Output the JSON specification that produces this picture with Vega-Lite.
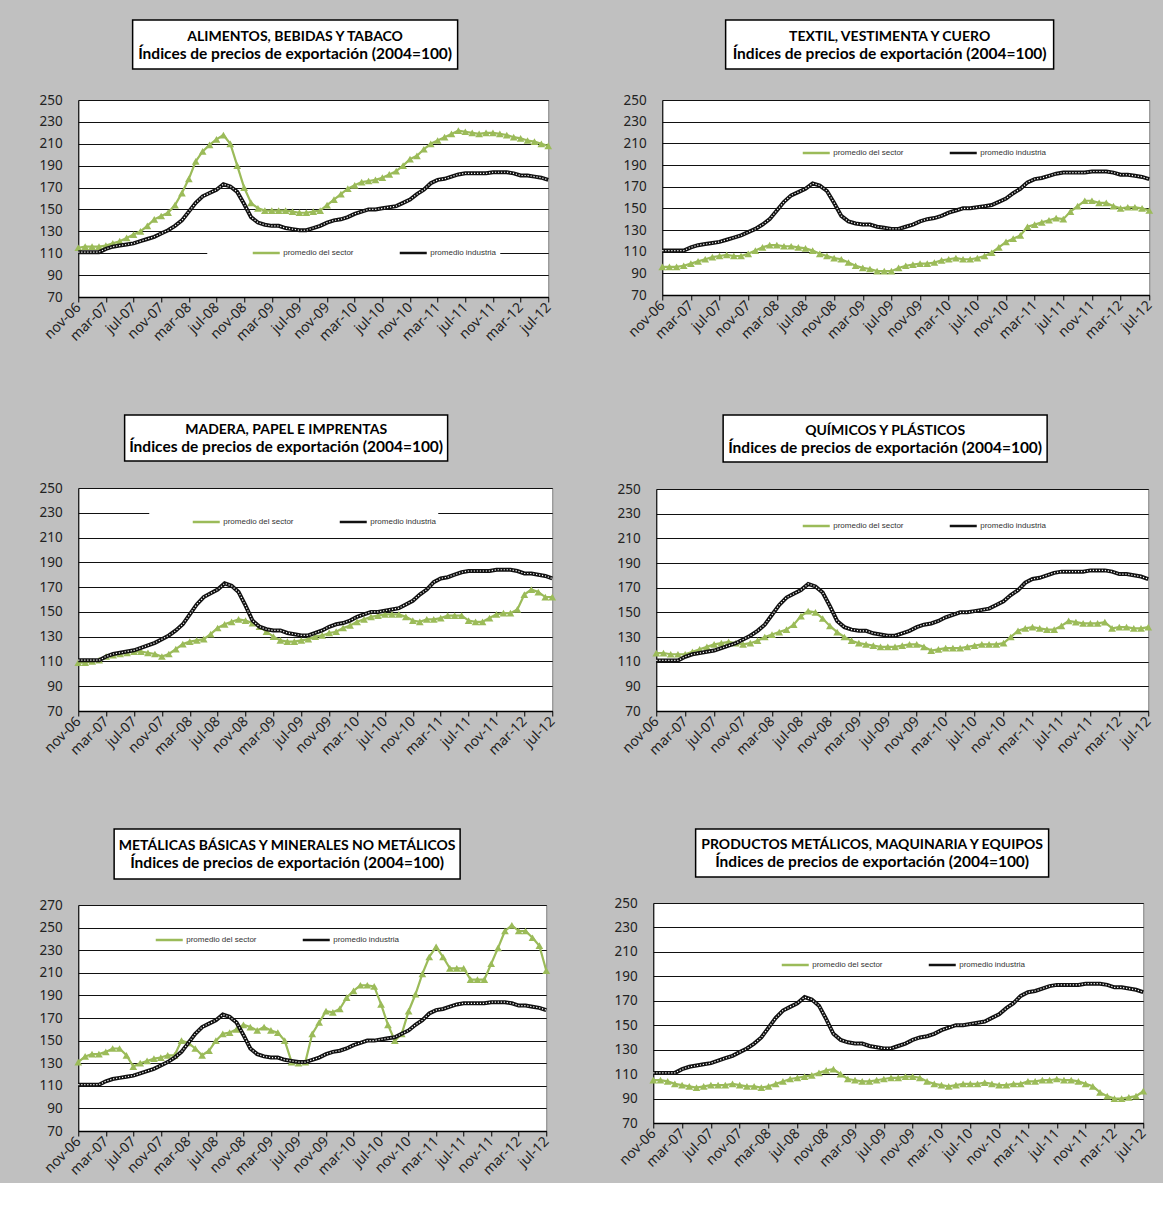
{
"$schema": "https://vega.github.io/schema/vega-lite/v6.json",
"padding": {"left": 38, "top": 19, "right": 5, "bottom": 5},
"datasets": {
"m": [
{"mes":"nov-06","ind":111,"ali":115,"tex":96,"mad":109,"qui":117,"met":131,"pro":105},
{"mes":"dic-06","ind":111,"ali":116,"tex":96,"mad":109,"qui":117,"met":136,"pro":105},
{"mes":"ene-07","ind":111,"ali":116,"tex":96,"mad":110,"qui":116,"met":138,"pro":104},
{"mes":"feb-07","ind":111,"ali":116,"tex":97,"mad":111,"qui":116,"met":138,"pro":102},
{"mes":"mar-07","ind":114,"ali":117,"tex":99,"mad":114,"qui":116,"met":140,"pro":101},
{"mes":"abr-07","ind":116,"ali":119,"tex":101,"mad":115,"qui":118,"met":143,"pro":100},
{"mes":"may-07","ind":117,"ali":121,"tex":103,"mad":116,"qui":120,"met":143,"pro":99},
{"mes":"jun-07","ind":118,"ali":124,"tex":105,"mad":117,"qui":122,"met":137,"pro":100},
{"mes":"jul-07","ind":119,"ali":127,"tex":106,"mad":118,"qui":124,"met":127,"pro":101},
{"mes":"ago-07","ind":121,"ali":130,"tex":107,"mad":118,"qui":125,"met":130,"pro":101},
{"mes":"sep-07","ind":123,"ali":135,"tex":106,"mad":117,"qui":126,"met":132,"pro":101},
{"mes":"oct-07","ind":125,"ali":141,"tex":106,"mad":116,"qui":125,"met":134,"pro":102},
{"mes":"nov-07","ind":128,"ali":144,"tex":108,"mad":114,"qui":124,"met":135,"pro":101},
{"mes":"dic-07","ind":131,"ali":147,"tex":111,"mad":116,"qui":125,"met":137,"pro":100},
{"mes":"ene-08","ind":135,"ali":154,"tex":114,"mad":120,"qui":127,"met":137,"pro":100},
{"mes":"feb-08","ind":140,"ali":165,"tex":116,"mad":124,"qui":130,"met":150,"pro":99},
{"mes":"mar-08","ind":148,"ali":178,"tex":116,"mad":126,"qui":132,"met":148,"pro":100},
{"mes":"abr-08","ind":156,"ali":194,"tex":115,"mad":127,"qui":134,"met":143,"pro":102},
{"mes":"may-08","ind":162,"ali":203,"tex":115,"mad":128,"qui":136,"met":137,"pro":104},
{"mes":"jun-08","ind":165,"ali":209,"tex":114,"mad":132,"qui":140,"met":141,"pro":106},
{"mes":"jul-08","ind":168,"ali":214,"tex":113,"mad":137,"qui":147,"met":150,"pro":107},
{"mes":"ago-08","ind":173,"ali":218,"tex":111,"mad":140,"qui":151,"met":156,"pro":108},
{"mes":"sep-08","ind":171,"ali":210,"tex":108,"mad":142,"qui":150,"met":157,"pro":109},
{"mes":"oct-08","ind":166,"ali":190,"tex":106,"mad":144,"qui":145,"met":160,"pro":111},
{"mes":"nov-08","ind":155,"ali":170,"tex":104,"mad":143,"qui":139,"met":164,"pro":113},
{"mes":"dic-08","ind":143,"ali":156,"tex":103,"mad":141,"qui":134,"met":162,"pro":114},
{"mes":"ene-09","ind":138,"ali":151,"tex":100,"mad":138,"qui":130,"met":159,"pro":110},
{"mes":"feb-09","ind":136,"ali":149,"tex":97,"mad":134,"qui":127,"met":162,"pro":106},
{"mes":"mar-09","ind":135,"ali":149,"tex":95,"mad":130,"qui":125,"met":159,"pro":105},
{"mes":"abr-09","ind":135,"ali":149,"tex":94,"mad":127,"qui":124,"met":157,"pro":104},
{"mes":"may-09","ind":133,"ali":149,"tex":92,"mad":126,"qui":123,"met":150,"pro":104},
{"mes":"jun-09","ind":132,"ali":148,"tex":92,"mad":126,"qui":122,"met":131,"pro":105},
{"mes":"jul-09","ind":131,"ali":147,"tex":92,"mad":127,"qui":122,"met":130,"pro":106},
{"mes":"ago-09","ind":131,"ali":147,"tex":95,"mad":128,"qui":122,"met":131,"pro":107},
{"mes":"sep-09","ind":133,"ali":148,"tex":97,"mad":130,"qui":123,"met":156,"pro":107},
{"mes":"oct-09","ind":135,"ali":149,"tex":98,"mad":131,"qui":124,"met":166,"pro":108},
{"mes":"nov-09","ind":138,"ali":154,"tex":99,"mad":133,"qui":124,"met":176,"pro":108},
{"mes":"dic-09","ind":140,"ali":159,"tex":99,"mad":134,"qui":122,"met":175,"pro":107},
{"mes":"ene-10","ind":141,"ali":164,"tex":100,"mad":137,"qui":119,"met":178,"pro":104},
{"mes":"feb-10","ind":143,"ali":169,"tex":102,"mad":139,"qui":120,"met":188,"pro":102},
{"mes":"mar-10","ind":146,"ali":172,"tex":103,"mad":142,"qui":121,"met":194,"pro":101},
{"mes":"abr-10","ind":148,"ali":175,"tex":104,"mad":144,"qui":121,"met":199,"pro":100},
{"mes":"may-10","ind":150,"ali":176,"tex":103,"mad":146,"qui":121,"met":199,"pro":101},
{"mes":"jun-10","ind":150,"ali":177,"tex":103,"mad":147,"qui":122,"met":198,"pro":102},
{"mes":"jul-10","ind":151,"ali":179,"tex":104,"mad":148,"qui":123,"met":182,"pro":102},
{"mes":"ago-10","ind":152,"ali":182,"tex":106,"mad":148,"qui":124,"met":164,"pro":102},
{"mes":"sep-10","ind":153,"ali":185,"tex":109,"mad":148,"qui":124,"met":150,"pro":103},
{"mes":"oct-10","ind":156,"ali":190,"tex":114,"mad":146,"qui":124,"met":156,"pro":102},
{"mes":"nov-10","ind":159,"ali":196,"tex":119,"mad":143,"qui":125,"met":176,"pro":101},
{"mes":"dic-10","ind":164,"ali":199,"tex":122,"mad":142,"qui":130,"met":191,"pro":101},
{"mes":"ene-11","ind":168,"ali":205,"tex":125,"mad":144,"qui":135,"met":209,"pro":102},
{"mes":"feb-11","ind":174,"ali":210,"tex":133,"mad":144,"qui":137,"met":224,"pro":102},
{"mes":"mar-11","ind":177,"ali":213,"tex":135,"mad":145,"qui":138,"met":233,"pro":104},
{"mes":"abr-11","ind":178,"ali":216,"tex":137,"mad":147,"qui":137,"met":224,"pro":104},
{"mes":"may-11","ind":180,"ali":219,"tex":139,"mad":147,"qui":136,"met":214,"pro":105},
{"mes":"jun-11","ind":182,"ali":222,"tex":141,"mad":147,"qui":136,"met":214,"pro":105},
{"mes":"jul-11","ind":183,"ali":221,"tex":140,"mad":143,"qui":139,"met":214,"pro":106},
{"mes":"ago-11","ind":183,"ali":220,"tex":147,"mad":142,"qui":143,"met":204,"pro":105},
{"mes":"sep-11","ind":183,"ali":219,"tex":152,"mad":142,"qui":142,"met":204,"pro":105},
{"mes":"oct-11","ind":183,"ali":220,"tex":157,"mad":145,"qui":141,"met":204,"pro":104},
{"mes":"nov-11","ind":184,"ali":220,"tex":157,"mad":148,"qui":141,"met":218,"pro":102},
{"mes":"dic-11","ind":184,"ali":219,"tex":155,"mad":149,"qui":141,"met":232,"pro":100},
{"mes":"ene-12","ind":184,"ali":218,"tex":155,"mad":149,"qui":142,"met":247,"pro":95},
{"mes":"feb-12","ind":183,"ali":216,"tex":152,"mad":152,"qui":137,"met":252,"pro":92},
{"mes":"mar-12","ind":181,"ali":215,"tex":150,"mad":164,"qui":138,"met":247,"pro":90},
{"mes":"abr-12","ind":181,"ali":213,"tex":151,"mad":168,"qui":138,"met":247,"pro":90},
{"mes":"may-12","ind":180,"ali":212,"tex":151,"mad":166,"qui":137,"met":241,"pro":91},
{"mes":"jun-12","ind":179,"ali":210,"tex":150,"mad":162,"qui":137,"met":234,"pro":92},
{"mes":"jul-12","ind":177,"ali":208,"tex":148,"mad":162,"qui":138,"met":212,"pro":96}
]
},
"spacing": 70,
"resolve": {"scale": {"x": "independent", "y": "independent", "color": "independent"}, "legend": {"color": "independent"}, "axis": {"x": "independent", "y": "independent"}},
"vconcat": [
{
"spacing": 65,
"resolve": {"scale": {"x": "independent", "y": "independent", "color": "independent"}, "legend": {"color": "independent"}, "axis": {"x": "independent", "y": "independent"}},
"hconcat": [
{
"spacing": 22, "center": true,
"resolve": {"scale": {"x": "independent", "y": "independent", "color": "independent"}, "legend": {"color": "independent"}, "axis": {"x": "independent", "y": "independent"}},
"vconcat": [
{"width": 325, "height": 49, "view": {"fill": "white", "stroke": "black", "strokeWidth": 1.5},
 "title": {"text": ".", "orient": "right", "offset": 34, "fontSize": 10, "color": "rgba(0,0,0,0)"},
 "data": {"values": [{"l1": "ALIMENTOS, BEBIDAS Y TABACO", "l2": "Índices de precios de exportación (2004=100)"}]},
 "layer": [
  {"mark": {"type": "text", "font": "Lato", "fontWeight": "bold", "fontSize": 14, "baseline": "bottom", "dy": -1, "color": "black"}, "encoding": {"text": {"field": "l1"}}},
  {"mark": {"type": "text", "font": "Lato", "fontWeight": "bold", "fontSize": 15.5, "baseline": "top", "dy": 2, "color": "black"}, "encoding": {"text": {"field": "l2"}}}
 ]},
{"width": 470, "height": 197, "data": {"name": "m"},
 "encoding": {"x": {"field": "mes", "type": "ordinal", "sort": null, "scale": {"type": "point", "padding": 0}, "axis": {"title": null, "values": ["nov-06","mar-07","jul-07","nov-07","mar-08","jul-08","nov-08","mar-09","jul-09","nov-09","mar-10","jul-10","nov-10","mar-11","jul-11","nov-11","mar-12","jul-12"]}}},
 "layer": [
  {"mark": {"type": "line", "strokeWidth": 2.2, "point": {"shape": "triangle-up", "size": 60, "filled": true}},
   "encoding": {"y": {"field": "ali", "type": "quantitative", "scale": {"domain": [70, 250], "nice": false, "zero": false}, "axis": {"title": null, "values": [70,90,110,130,150,170,190,210,230,250]}},
    "color": {"datum": "promedio del sector", "scale": {"domain": ["promedio del sector", "promedio industria"], "range": ["#9BBB59", "#111111"]}, "legend": {"title": " ", "titleOrient": "left", "titlePadding": 40, "fillColor": "white", "legendX": 129, "legendY": 134}}}},
  {"mark": {"type": "line", "strokeWidth": 4}, "encoding": {"y": {"field": "ind", "type": "quantitative", "axis": {"title": null, "values": [70,90,110,130,150,170,190,210,230,250]}}, "color": {"datum": "promedio industria"}}},
  {"mark": {"type": "line", "strokeWidth": 1.2, "strokeDash": [1.2, 1.8], "color": "white"}, "encoding": {"y": {"field": "ind", "type": "quantitative", "axis": {"title": null, "values": [70,90,110,130,150,170,190,210,230,250]}}}}
 ]}
]
},
{
"spacing": 22, "center": true,
"resolve": {"scale": {"x": "independent", "y": "independent", "color": "independent"}, "legend": {"color": "independent"}, "axis": {"x": "independent", "y": "independent"}},
"vconcat": [
{"width": 328, "height": 49, "view": {"fill": "white", "stroke": "black", "strokeWidth": 1.5},
 "title": {"text": ".", "orient": "right", "offset": 30, "fontSize": 10, "color": "rgba(0,0,0,0)"},
 "data": {"values": [{"l1": "TEXTIL, VESTIMENTA Y CUERO", "l2": "Índices de precios de exportación (2004=100)"}]},
 "layer": [
  {"mark": {"type": "text", "font": "Lato", "fontWeight": "bold", "fontSize": 14, "baseline": "bottom", "dy": -1, "color": "black"}, "encoding": {"text": {"field": "l1"}}},
  {"mark": {"type": "text", "font": "Lato", "fontWeight": "bold", "fontSize": 15.5, "baseline": "top", "dy": 2, "color": "black"}, "encoding": {"text": {"field": "l2"}}}
 ]},
{"width": 487, "height": 195, "data": {"name": "m"},
 "encoding": {"x": {"field": "mes", "type": "ordinal", "sort": null, "scale": {"type": "point", "padding": 0}, "axis": {"title": null, "values": ["nov-06","mar-07","jul-07","nov-07","mar-08","jul-08","nov-08","mar-09","jul-09","nov-09","mar-10","jul-10","nov-10","mar-11","jul-11","nov-11","mar-12","jul-12"]}}},
 "layer": [
  {"mark": {"type": "line", "strokeWidth": 2.2, "point": {"shape": "triangle-up", "size": 60, "filled": true}},
   "encoding": {"y": {"field": "tex", "type": "quantitative", "scale": {"domain": [70, 250], "nice": false, "zero": false}, "axis": {"title": null, "values": [70,90,110,130,150,170,190,210,230,250]}},
    "color": {"datum": "promedio del sector", "scale": {"domain": ["promedio del sector", "promedio industria"], "range": ["#9BBB59", "#111111"]}, "legend": {"title": null, "legendX": 135, "legendY": 34}}}},
  {"mark": {"type": "line", "strokeWidth": 4}, "encoding": {"y": {"field": "ind", "type": "quantitative", "axis": {"title": null, "values": [70,90,110,130,150,170,190,210,230,250]}}, "color": {"datum": "promedio industria"}}},
  {"mark": {"type": "line", "strokeWidth": 1.2, "strokeDash": [1.2, 1.8], "color": "white"}, "encoding": {"y": {"field": "ind", "type": "quantitative", "axis": {"title": null, "values": [70,90,110,130,150,170,190,210,230,250]}}}}
 ]}
]
}
]
},
{
"spacing": 55,
"resolve": {"scale": {"x": "independent", "y": "independent", "color": "independent"}, "legend": {"color": "independent"}, "axis": {"x": "independent", "y": "independent"}},
"hconcat": [
{
"spacing": 18, "center": true,
"resolve": {"scale": {"x": "independent", "y": "independent", "color": "independent"}, "legend": {"color": "independent"}, "axis": {"x": "independent", "y": "independent"}},
"vconcat": [
{"width": 323, "height": 46, "view": {"fill": "white", "stroke": "black", "strokeWidth": 1.5},
 "title": {"text": ".", "orient": "right", "offset": 56, "fontSize": 10, "color": "rgba(0,0,0,0)"},
 "data": {"values": [{"l1": "MADERA, PAPEL E IMPRENTAS", "l2": "Índices de precios de exportación (2004=100)"}]},
 "layer": [
  {"mark": {"type": "text", "font": "Lato", "fontWeight": "bold", "fontSize": 14, "baseline": "bottom", "dy": -1, "color": "black"}, "encoding": {"text": {"field": "l1"}}},
  {"mark": {"type": "text", "font": "Lato", "fontWeight": "bold", "fontSize": 15.5, "baseline": "top", "dy": 2, "color": "black"}, "encoding": {"text": {"field": "l2"}}}
 ]},
{"width": 474, "height": 223, "data": {"name": "m"},
 "encoding": {"x": {"field": "mes", "type": "ordinal", "sort": null, "scale": {"type": "point", "padding": 0}, "axis": {"title": null, "values": ["nov-06","mar-07","jul-07","nov-07","mar-08","jul-08","nov-08","mar-09","jul-09","nov-09","mar-10","jul-10","nov-10","mar-11","jul-11","nov-11","mar-12","jul-12"]}}},
 "layer": [
  {"mark": {"type": "line", "strokeWidth": 2.2, "point": {"shape": "triangle-up", "size": 60, "filled": true}},
   "encoding": {"y": {"field": "mad", "type": "quantitative", "scale": {"domain": [70, 250], "nice": false, "zero": false}, "axis": {"title": null, "values": [70,90,110,130,150,170,190,210,230,250]}},
    "color": {"datum": "promedio del sector", "scale": {"domain": ["promedio del sector", "promedio industria"], "range": ["#9BBB59", "#111111"]}, "legend": {"title": " ", "titleOrient": "left", "titlePadding": 40, "padding": 2, "fillColor": "white", "legendX": 71, "legendY": 17}}}},
  {"mark": {"type": "line", "strokeWidth": 4}, "encoding": {"y": {"field": "ind", "type": "quantitative", "axis": {"title": null, "values": [70,90,110,130,150,170,190,210,230,250]}}, "color": {"datum": "promedio industria"}}},
  {"mark": {"type": "line", "strokeWidth": 1.2, "strokeDash": [1.2, 1.8], "color": "white"}, "encoding": {"y": {"field": "ind", "type": "quantitative", "axis": {"title": null, "values": [70,90,110,130,150,170,190,210,230,250]}}}}
 ]}
]
},
{
"spacing": 18, "center": true,
"resolve": {"scale": {"x": "independent", "y": "independent", "color": "independent"}, "legend": {"color": "independent"}, "axis": {"x": "independent", "y": "independent"}},
"vconcat": [
{"width": 324, "height": 47, "view": {"fill": "white", "stroke": "black", "strokeWidth": 1.5},
 "title": {"text": ".", "orient": "right", "offset": 32, "fontSize": 10, "color": "rgba(0,0,0,0)"},
 "data": {"values": [{"l1": "QUÍMICOS Y PLÁSTICOS", "l2": "Índices de precios de exportación (2004=100)"}]},
 "layer": [
  {"mark": {"type": "text", "font": "Lato", "fontWeight": "bold", "fontSize": 14, "baseline": "bottom", "dy": -1, "color": "black"}, "encoding": {"text": {"field": "l1"}}},
  {"mark": {"type": "text", "font": "Lato", "fontWeight": "bold", "fontSize": 15.5, "baseline": "top", "dy": 2, "color": "black"}, "encoding": {"text": {"field": "l2"}}}
 ]},
{"width": 492, "height": 222, "data": {"name": "m"},
 "encoding": {"x": {"field": "mes", "type": "ordinal", "sort": null, "scale": {"type": "point", "padding": 0}, "axis": {"title": null, "values": ["nov-06","mar-07","jul-07","nov-07","mar-08","jul-08","nov-08","mar-09","jul-09","nov-09","mar-10","jul-10","nov-10","mar-11","jul-11","nov-11","mar-12","jul-12"]}}},
 "layer": [
  {"mark": {"type": "line", "strokeWidth": 2.2, "point": {"shape": "triangle-up", "size": 60, "filled": true}},
   "encoding": {"y": {"field": "qui", "type": "quantitative", "scale": {"domain": [70, 250], "nice": false, "zero": false}, "axis": {"title": null, "values": [70,90,110,130,150,170,190,210,230,250]}},
    "color": {"datum": "promedio del sector", "scale": {"domain": ["promedio del sector", "promedio industria"], "range": ["#9BBB59", "#111111"]}, "legend": {"title": null, "legendX": 141, "legendY": 18}}}},
  {"mark": {"type": "line", "strokeWidth": 4}, "encoding": {"y": {"field": "ind", "type": "quantitative", "axis": {"title": null, "values": [70,90,110,130,150,170,190,210,230,250]}}, "color": {"datum": "promedio industria"}}},
  {"mark": {"type": "line", "strokeWidth": 1.2, "strokeDash": [1.2, 1.8], "color": "white"}, "encoding": {"y": {"field": "ind", "type": "quantitative", "axis": {"title": null, "values": [70,90,110,130,150,170,190,210,230,250]}}}}
 ]}
]
}
]
},
{
"spacing": 58,
"resolve": {"scale": {"x": "independent", "y": "independent", "color": "independent"}, "legend": {"color": "independent"}, "axis": {"x": "independent", "y": "independent"}},
"hconcat": [
{
"spacing": 17, "center": true,
"resolve": {"scale": {"x": "independent", "y": "independent", "color": "independent"}, "legend": {"color": "independent"}, "axis": {"x": "independent", "y": "independent"}},
"vconcat": [
{"width": 346, "height": 50, "view": {"fill": "white", "stroke": "black", "strokeWidth": 1.5},
 "title": {"text": ".", "orient": "right", "offset": 48, "fontSize": 10, "color": "rgba(0,0,0,0)"},
 "data": {"values": [{"l1": "METÁLICAS BÁSICAS Y MINERALES NO METÁLICOS", "l2": "Índices de precios de exportación (2004=100)"}]},
 "layer": [
  {"mark": {"type": "text", "font": "Lato", "fontWeight": "bold", "fontSize": 14, "baseline": "bottom", "dy": -1, "color": "black"}, "encoding": {"text": {"field": "l1"}}},
  {"mark": {"type": "text", "font": "Lato", "fontWeight": "bold", "fontSize": 15.5, "baseline": "top", "dy": 2, "color": "black"}, "encoding": {"text": {"field": "l2"}}}
 ]},
{"width": 468, "height": 226, "data": {"name": "m"},
 "encoding": {"x": {"field": "mes", "type": "ordinal", "sort": null, "scale": {"type": "point", "padding": 0}, "axis": {"title": null, "values": ["nov-06","mar-07","jul-07","nov-07","mar-08","jul-08","nov-08","mar-09","jul-09","nov-09","mar-10","jul-10","nov-10","mar-11","jul-11","nov-11","mar-12","jul-12"]}}},
 "layer": [
  {"mark": {"type": "line", "strokeWidth": 2.2, "point": {"shape": "triangle-up", "size": 60, "filled": true}},
   "encoding": {"y": {"field": "met", "type": "quantitative", "scale": {"domain": [70, 270], "nice": false, "zero": false}, "axis": {"title": null, "values": [70,90,110,130,150,170,190,210,230,250,270]}},
    "color": {"datum": "promedio del sector", "scale": {"domain": ["promedio del sector", "promedio industria"], "range": ["#9BBB59", "#111111"]}, "legend": {"title": null, "legendX": 72, "legendY": 16}}}},
  {"mark": {"type": "line", "strokeWidth": 4}, "encoding": {"y": {"field": "ind", "type": "quantitative", "axis": {"title": null, "values": [70,90,110,130,150,170,190,210,230,250,270]}}, "color": {"datum": "promedio industria"}}},
  {"mark": {"type": "line", "strokeWidth": 1.2, "strokeDash": [1.2, 1.8], "color": "white"}, "encoding": {"y": {"field": "ind", "type": "quantitative", "axis": {"title": null, "values": [70,90,110,130,150,170,190,210,230,250,270]}}}}
 ]}
]
},
{
"spacing": 17, "center": true,
"resolve": {"scale": {"x": "independent", "y": "independent", "color": "independent"}, "legend": {"color": "independent"}, "axis": {"x": "independent", "y": "independent"}},
"vconcat": [
{"width": 353, "height": 48, "view": {"fill": "white", "stroke": "black", "strokeWidth": 1.5},
 "title": {"text": ".", "orient": "right", "offset": 50, "fontSize": 10, "color": "rgba(0,0,0,0)"},
 "data": {"values": [{"l1": "PRODUCTOS METÁLICOS, MAQUINARIA Y EQUIPOS", "l2": "Índices de precios de exportación (2004=100)"}]},
 "layer": [
  {"mark": {"type": "text", "font": "Lato", "fontWeight": "bold", "fontSize": 14, "baseline": "bottom", "dy": -1, "color": "black"}, "encoding": {"text": {"field": "l1"}}},
  {"mark": {"type": "text", "font": "Lato", "fontWeight": "bold", "fontSize": 15.5, "baseline": "top", "dy": 2, "color": "black"}, "encoding": {"text": {"field": "l2"}}}
 ]},
{"width": 490, "height": 220, "data": {"name": "m"},
 "encoding": {"x": {"field": "mes", "type": "ordinal", "sort": null, "scale": {"type": "point", "padding": 0}, "axis": {"title": null, "values": ["nov-06","mar-07","jul-07","nov-07","mar-08","jul-08","nov-08","mar-09","jul-09","nov-09","mar-10","jul-10","nov-10","mar-11","jul-11","nov-11","mar-12","jul-12"]}}},
 "layer": [
  {"mark": {"type": "line", "strokeWidth": 2.2, "point": {"shape": "triangle-up", "size": 60, "filled": true}},
   "encoding": {"y": {"field": "pro", "type": "quantitative", "scale": {"domain": [70, 250], "nice": false, "zero": false}, "axis": {"title": null, "values": [70,90,110,130,150,170,190,210,230,250]}},
    "color": {"datum": "promedio del sector", "scale": {"domain": ["promedio del sector", "promedio industria"], "range": ["#9BBB59", "#111111"]}, "legend": {"title": null, "legendX": 123, "legendY": 43}}}},
  {"mark": {"type": "line", "strokeWidth": 4}, "encoding": {"y": {"field": "ind", "type": "quantitative", "axis": {"title": null, "values": [70,90,110,130,150,170,190,210,230,250]}}, "color": {"datum": "promedio industria"}}},
  {"mark": {"type": "line", "strokeWidth": 1.2, "strokeDash": [1.2, 1.8], "color": "white"}, "encoding": {"y": {"field": "ind", "type": "quantitative", "axis": {"title": null, "values": [70,90,110,130,150,170,190,210,230,250]}}}}
 ]}
]
}
]
}
],
"config": {
 "background": "#c0c0c0",
 "view": {"fill": "white", "stroke": "#7f7f7f", "strokeWidth": 1},
 "axis": {"labelFont": "Noto Sans", "labelColor": "#222222"},
 "axisX": {"labelAngle": -45, "labelAlign": "right", "labelBaseline": "middle", "labelFontSize": 14, "grid": false, "ticks": true, "tickColor": "black", "tickSize": 5, "domainColor": "black", "domainWidth": 1.5, "labelPadding": 3},
 "axisY": {"labelFontSize": 13.5, "grid": true, "gridColor": "#111111", "gridWidth": 1, "ticks": false, "tickSize": 0, "domainColor": "black", "domainWidth": 1, "labelPadding": 16},
 "legend": {"orient": "none", "direction": "horizontal", "fillColor": "rgba(0,0,0,0)", "padding": 4, "columnPadding": 40, "labelFont": "Liberation Sans", "labelFontSize": 8, "labelColor": "#333333", "symbolType": "stroke", "symbolSize": 729, "symbolStrokeWidth": 2.5, "labelOffset": 2, "titleFontSize": 8}
}
}
